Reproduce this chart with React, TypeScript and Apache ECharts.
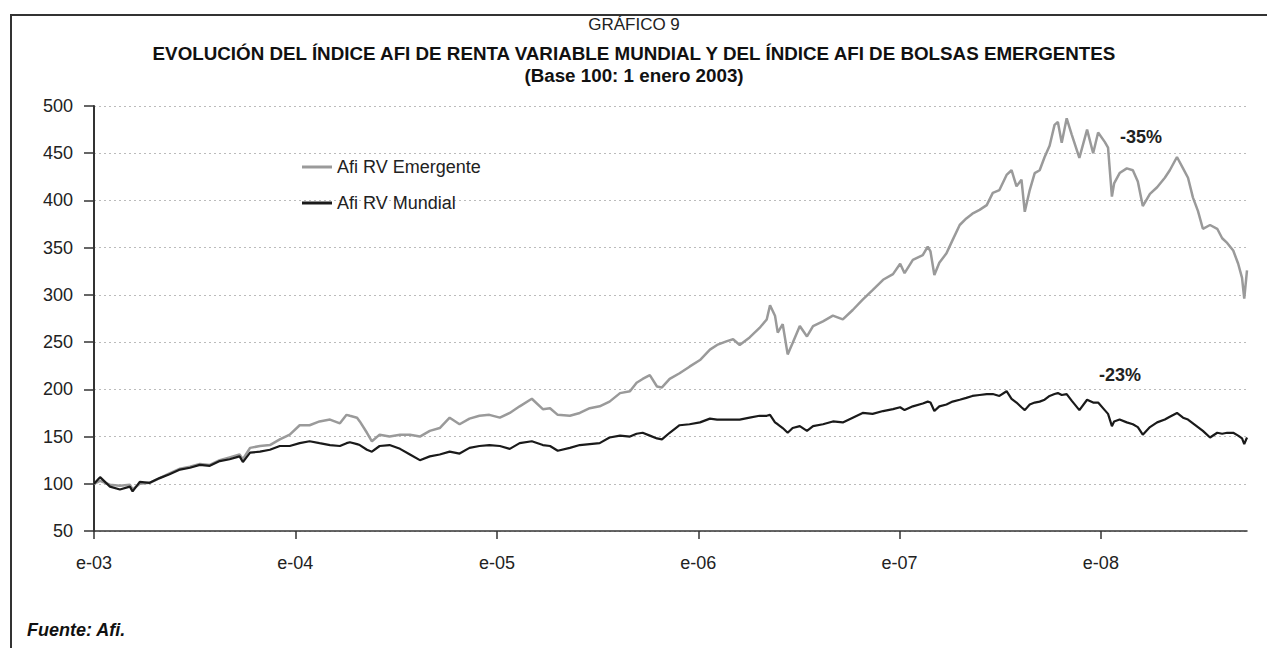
import { useEffect, useRef } from "react";
import * as echarts from "echarts";

const dates = [
  "2003-01-01","2003-01-12","2003-01-30","2003-02-17","2003-03-07","2003-03-12","2003-03-25","2003-04-12","2003-04-30","2003-05-18",
  "2003-06-06","2003-06-24","2003-07-12","2003-07-30","2003-08-17","2003-09-04","2003-09-22","2003-09-28","2003-10-11","2003-10-29",
  "2003-11-16","2003-12-04","2003-12-22","2004-01-09","2004-01-27","2004-02-14","2004-03-04","2004-03-22","2004-04-03","2004-04-09",
  "2004-04-22","2004-04-27","2004-05-10","2004-05-19","2004-06-02","2004-06-20","2004-07-09","2004-07-27","2004-08-14","2004-09-01",
  "2004-09-19","2004-10-07","2004-10-25","2004-11-12","2004-11-30","2004-12-18","2005-01-06","2005-01-24","2005-02-11","2005-03-05",
  "2005-03-25","2005-04-07","2005-04-21","2005-05-13","2005-05-31","2005-06-18","2005-07-06","2005-07-24","2005-08-12","2005-08-30",
  "2005-09-11","2005-09-22","2005-10-05","2005-10-18","2005-10-27","2005-11-10","2005-11-28","2005-12-16","2006-01-04","2006-01-22",
  "2006-02-04","2006-02-22","2006-03-05","2006-03-17","2006-04-04","2006-04-22","2006-05-05","2006-05-11","2006-05-20","2006-05-25",
  "2006-06-03","2006-06-12","2006-06-21","2006-07-04","2006-07-17","2006-07-28","2006-08-15","2006-09-02","2006-09-20","2006-10-08",
  "2006-10-26","2006-11-13","2006-12-02","2006-12-20","2007-01-02","2007-01-10","2007-01-25","2007-02-12","2007-02-21","2007-02-26",
  "2007-03-05","2007-03-14","2007-03-27","2007-04-07","2007-04-20","2007-05-02","2007-05-13","2007-05-26","2007-06-08","2007-06-19",
  "2007-07-01","2007-07-14","2007-07-23","2007-08-01","2007-08-10","2007-08-16","2007-08-25","2007-09-03","2007-09-12","2007-09-21",
  "2007-09-30","2007-10-09","2007-10-15","2007-10-22","2007-10-31","2007-11-09","2007-11-23","2007-12-07","2007-12-18","2007-12-27",
  "2008-01-08","2008-01-14","2008-01-21","2008-01-25","2008-02-04","2008-02-17","2008-02-28","2008-03-08","2008-03-17","2008-03-30",
  "2008-04-12","2008-04-26","2008-05-05","2008-05-18","2008-05-29","2008-06-07","2008-06-16","2008-06-25","2008-07-04","2008-07-17",
  "2008-07-30","2008-08-08","2008-08-17","2008-08-28","2008-09-06","2008-09-13","2008-09-17","2008-09-22"
];

const emergente = [
  100,103,99,98,99,94,100,101,106,111,
  116,118,121,120,125,128,131,126,138,140,
  141,147,152,162,162,166,168,164,173,172,
  170,166,154,145,152,150,152,152,150,156,
  159,170,163,169,172,173,170,175,182,190,
  179,180,173,172,175,180,182,187,196,198,
  207,211,215,203,202,211,217,224,231,242,
  247,251,253,247,255,265,274,289,278,260,
  269,237,249,267,256,267,272,278,274,284,
  295,305,316,322,333,323,337,342,351,346,
  321,334,344,358,374,381,386,390,395,408,
  411,427,432,415,422,388,411,429,432,446,
  458,480,483,461,487,470,445,475,450,472,
  462,456,404,418,429,434,432,420,394,407,
  414,424,432,446,434,424,403,389,370,374,
  370,360,355,347,333,318,296,326
];

const mundial = [
  100,107,97,94,97,92,102,101,106,110,
  115,117,120,119,124,126,129,123,133,134,
  136,140,140,143,145,143,141,140,143,144,
  142,141,136,134,140,141,137,131,125,129,
  131,134,132,138,140,141,140,137,143,145,
  141,140,135,138,141,142,143,149,151,150,
  153,154,151,148,147,154,162,163,165,169,
  168,168,168,168,170,172,172,173,165,163,
  159,154,159,161,156,161,163,166,165,170,
  175,174,177,179,181,178,182,185,187,186,
  177,182,184,187,189,191,193,194,195,195,
  193,198,190,186,181,178,184,186,187,189,
  193,195,196,194,195,188,178,189,186,186,
  178,174,161,166,168,165,163,160,152,160,
  165,168,171,175,170,168,164,160,156,149,
  154,153,154,154,151,148,142,149
];

const yearTicks = ["2003-01-01","2004-01-01","2005-01-01","2006-01-01","2007-01-01","2008-01-01"];

const toTs = (s: string) => {
  const [y, m, d] = s.split("-").map(Number);
  return Date.UTC(y, m - 1, d);
};

export default function App() {
  const ref = useRef<HTMLDivElement>(null);
  useEffect(() => {
    document.body.style.margin = "0";
    const chart = echarts.init(ref.current!, null, { renderer: "svg" });
    const font = "'Liberation Sans', Arial, Helvetica, sans-serif";
    const tickVals = yearTicks.map(toTs);
    chart.setOption({
      animation: false,
      backgroundColor: "#ffffff",
      textStyle: { fontFamily: font },
      grid: { left: 94, right: 20, top: 106, bottom: 117 },
      legend: {
        data: ["Afi RV Emergente", "Afi RV Mundial"],
        orient: "vertical",
        left: 302,
        top: 157,
        padding: 0,
        icon: "rect",
        itemWidth: 30,
        itemHeight: 3,
        itemGap: 16,
        textStyle: { fontSize: 18, color: "#222", lineHeight: 20, fontFamily: font },
      },
      xAxis: {
        type: "value",
        min: toTs(dates[0]),
        max: toTs(dates[dates.length - 1]),
        axisLine: { lineStyle: { color: "#333", width: 1.5 } },
        axisTick: { customValues: tickVals, length: 8, lineStyle: { color: "#333", width: 1.5 } },
        axisLabel: {
          customValues: tickVals,
          formatter: (v: number) => "e-" + String(new Date(v).getUTCFullYear()).slice(2),
          fontSize: 18,
          color: "#222",
          margin: 23,
          fontFamily: font,
        },
        splitLine: { show: false },
      },
      yAxis: {
        type: "value",
        min: 50,
        max: 500,
        interval: 50,
        axisLine: { show: true, lineStyle: { color: "#333", width: 2 } },
        axisTick: { show: true, length: 10, lineStyle: { color: "#333", width: 1.5 } },
        axisLabel: { fontSize: 18, color: "#222", margin: 21, fontFamily: font },
        splitLine: { show: true, lineStyle: { color: "#bbbbbb", type: [2, 3], width: 1 } },
      },
      series: [
        {
          name: "Afi RV Emergente",
          type: "line",
          color: "#9a9a9a",
          symbol: "none",
          lineStyle: { color: "#9a9a9a", width: 2.5 },
          data: dates.map((d, i) => [toTs(d), emergente[i]]),
        },
        {
          name: "Afi RV Mundial",
          type: "line",
          color: "#1a1a1a",
          symbol: "none",
          lineStyle: { color: "#1a1a1a", width: 2.2 },
          data: dates.map((d, i) => [toTs(d), mundial[i]]),
        },
      ],
      graphic: [
        { type: "rect", shape: { x: 11, y: 15, width: 1300, height: 700 }, style: { fill: "none", stroke: "#333", lineWidth: 2 }, silent: true },
        { type: "text", style: { text: "GRÁFICO 9", x: 634, y: 24, textAlign: "center", textVerticalAlign: "middle", fontSize: 17, fontFamily: font, fill: "#222" } },
        { type: "text", style: { text: "EVOLUCIÓN DEL ÍNDICE AFI DE RENTA VARIABLE MUNDIAL Y DEL ÍNDICE AFI DE BOLSAS EMERGENTES", x: 634, y: 53, textAlign: "center", textVerticalAlign: "middle", fontSize: 18.8, fontWeight: "bold", fontFamily: font, fill: "#111" } },
        { type: "text", style: { text: "(Base 100: 1 enero 2003)", x: 634, y: 75, textAlign: "center", textVerticalAlign: "middle", fontSize: 18.8, fontWeight: "bold", fontFamily: font, fill: "#111" } },
        { type: "text", style: { text: "-35%", x: 1141, y: 137, textAlign: "center", textVerticalAlign: "middle", fontSize: 18, fontWeight: "bold", fontFamily: font, fill: "#222" } },
        { type: "text", style: { text: "-23%", x: 1120, y: 375, textAlign: "center", textVerticalAlign: "middle", fontSize: 18, fontWeight: "bold", fontFamily: font, fill: "#222" } },
        { type: "text", style: { text: "Fuente: Afi.", x: 27, y: 630, textAlign: "left", textVerticalAlign: "middle", fontSize: 18, fontWeight: "bold", fontStyle: "italic", fontFamily: font, fill: "#111" } },
      ],
    });
    return () => chart.dispose();
  }, []);
  return <div ref={ref} style={{ width: 1267, height: 648 }} />;
}
